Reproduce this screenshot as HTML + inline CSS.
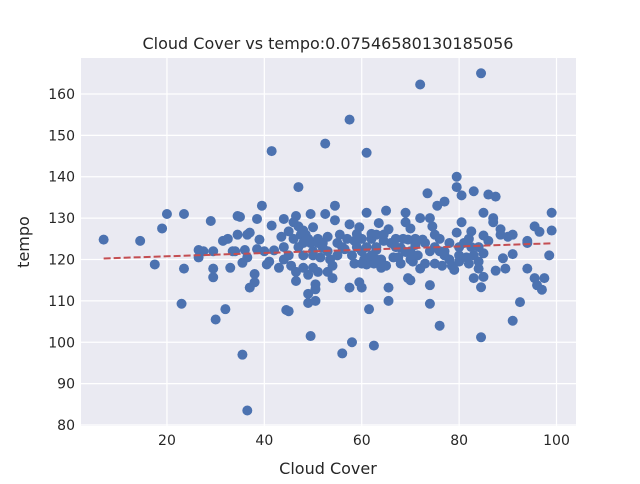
<!DOCTYPE html>
<html><head><meta charset="utf-8"><style>
body{margin:0;background:#fff;font-family:"DejaVu Sans","Liberation Sans",sans-serif}
</style></head><body>
<svg id="chart" width="640" height="480" xmlns="http://www.w3.org/2000/svg" font-family="DejaVu Sans, Liberation Sans, sans-serif">
<rect x="81" y="58" width="495" height="368" fill="#eaeaf2"/>
<g id="grid"></g>
<g id="pts"></g>
<g id="reg"></g>
<g id="ticks"></g>
<text x="328" y="49" text-anchor="middle" font-size="16" fill="#262626">Cloud Cover vs tempo:0.07546580130185056</text>
<text x="328" y="474" text-anchor="middle" font-size="16" fill="#262626">Cloud Cover</text>
<text transform="translate(29,242) rotate(-90)" text-anchor="middle" font-size="16" fill="#262626">tempo</text>
</svg>
<script>
const xTicks=[20,40,60,80,100];
const yTicks=[80,90,100,110,120,130,140,150,160];
const cloud=[7,14.5,17.5,19,20,23,23.5,23.5,26.5,26.5,27.5,29,29.5,29.5,29.5,30,31.5,32,32.5,33,33.5,34,34.5,34.5,35,35.5,35.5,36,36.5,36.5,36.5,37,37,38,38,38.5,38.5,39,39.5,40,40.5,41,41.5,41.5,42,43.5,44,44,44.5,45,45,45.5,46,46.5,46.5,46.5,47,47,47.5,48,48,48,48.5,49,49,49,49.5,49.5,49.5,50,50,50,50.5,50.5,50.5,51,51,51.5,52,52.5,52.5,53,53,53.5,54,54,54.5,54.5,55,55.5,56,56.5,57,57.5,57.5,57.5,58,58.5,58.5,59,59,59.5,59.5,60,60,60.5,61,61,61,61.5,61.5,62,62,62.5,62.5,63,63,63.5,64,64.5,64.5,65,65,65.5,65.5,65.5,66.5,67.5,68,68.5,69,69,69,69.5,69.5,70,70,70.5,71,71.5,72,72,72,72.5,73,73.5,74,74,74,74.5,75,75,75.5,76,76,76.5,77,77,78,78.5,79,79.5,79.5,79.5,80,80,80.5,80.5,81.5,82,82.5,82.5,83,83,84,84,84.5,84.5,84.5,85,85,85,85,86,86,87,87,87.5,87.5,88.5,88.5,89,89.5,90,91,91,91,92.5,94,94,94,95.5,95.5,96,96.5,97,97.5,98.5,99,99,
52,53,55,56,58,60,62,63,64,66,67,68,70,71,73,74,76,77,81,83,47,48,50,51,45,46,44,43,49,60,61,63,67,70,75,78,80,82,84];
const tempo=[124.8,124.5,118.8,127.5,131,109.3,131,117.8,122.3,120.5,122,129.3,122,117.8,115.7,105.5,124.5,108,125,118,122,122,126,130.5,130.3,119.2,97,122.3,126,120.5,83.5,113.2,126.5,116.5,114.5,122.5,129.8,124.8,133,122,118.8,119.5,128.2,146.2,122.2,125.5,129.8,120,107.8,126.8,107.5,118.5,129,117,114.8,130.5,137.5,128,126,121,127,118,126,111.7,109.5,116.3,131,124,101.5,118,121,127.8,114,110,112.8,117,125,120.5,122.8,131,148,117,125.5,120,115.5,118.5,129.5,133,124,126,97.3,122.5,125,128.5,113.2,153.8,100,119,124.5,126.2,123,127.8,114.5,113.2,122,120,118.8,131.3,145.8,120.5,108,126.2,125,99.2,119,122.3,126,128.8,118,124.5,126,131.8,118.5,113.2,110,127.3,120.5,120.5,122.8,125,121.8,129,131.3,115.5,124.8,127.5,115,119.5,123.5,121,117.8,130,162.3,124.8,119,136,113.8,109.3,130,128,126,119,133,104,122,118.5,122,134,124,118.5,117.5,140,137.5,126.5,123,119.5,129,135.5,120.5,125,123,126.8,136.5,115.5,117.8,119.5,165,113.3,101.2,115.8,121.5,125.8,131.3,124.5,135.7,130,129,117.3,135.2,127.3,126,120.3,117.8,125.5,121.3,126,105.2,109.7,117.8,124.5,124,115.5,128,113.8,126.7,112.7,115.5,121,127,131.3,
124,122,121,123,121,125,121,123,120,124,123,119,122,125,124,122,125,121,124,121,123,124,122,124,121,125,123,118,125,119,123,120,125,120,123,120,121,119,123];
const NS='http://www.w3.org/2000/svg';
const L=81,R=576,T=58,B=426;
const xmin=2.35,xmax=104,ymin=79.76,ymax=168.7;
function sx(v){return L+(v-xmin)/(xmax-xmin)*(R-L);}
function sy(v){return B-(v-ymin)/(ymax-ymin)*(B-T);}
function mk(t,a,p){const e=document.createElementNS(NS,t);for(const k in a)e.setAttribute(k,a[k]);p.appendChild(e);return e;}
const g=document.getElementById('grid'),tk=document.getElementById('ticks');
xTicks.forEach(v=>{
 const l=mk('line',{x1:sx(v),x2:sx(v),y1:T,y2:B,stroke:'#fff','stroke-width':1.2},g);
 
 
 const t=mk('text',{x:sx(v),y:B+19,'text-anchor':'middle','font-size':14,fill:'#262626'},tk);
 t.textContent=v;
 
 
});
yTicks.forEach(v=>{
 const l=mk('line',{x1:L,x2:R,y1:sy(v),y2:sy(v),stroke:'#fff','stroke-width':1.2},g);
 
 
 const t=mk('text',{x:L-6,y:sy(v)+5,'text-anchor':'end','font-size':14,fill:'#262626'},tk);
 t.textContent=v;
 
 
});
const pg=document.getElementById('pts');
for(let i=0;i<cloud.length;i++){
 const c=mk('circle',{cx:sx(cloud[i]),cy:sy(tempo[i]),r:5,fill:'#4c72b0'},pg);
 
 
}
let n=cloud.length,mx=0,my=0;for(let i=0;i<n;i++){mx+=cloud[i];my+=tempo[i];}mx/=n;my/=n;
let sxy=0,sxx=0;for(let i=0;i<n;i++){sxy+=(cloud[i]-mx)*(tempo[i]-my);sxx+=(cloud[i]-mx)**2;}
const slope=sxy/sxx,ic=my-slope*mx;
const x0=Math.min(...cloud),x1=Math.max(...cloud);
const rl=mk('line',{x1:sx(x0),y1:sy(ic+slope*x0),x2:sx(x1),y2:sy(ic+slope*x1),stroke:'#c44e52','stroke-width':2,'stroke-dasharray':'7,3'},document.getElementById('reg'));


</script>
</body></html>
